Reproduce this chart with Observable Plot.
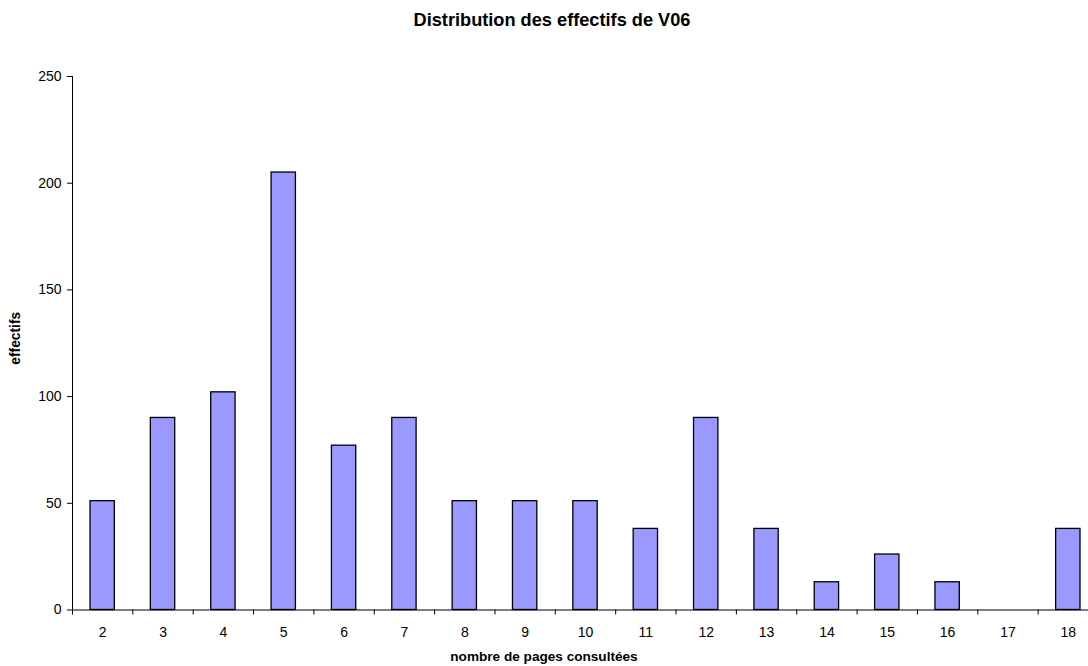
<!DOCTYPE html>
<html>
<head>
<meta charset="utf-8">
<script src="https://cdn.jsdelivr.net/npm/d3@7"></script>
<script src="https://cdn.jsdelivr.net/npm/@observablehq/plot@0.6"></script>
<style>
  html, body { margin: 0; padding: 0; background: #fff; overflow: hidden; }
  #wrap { width: 1088px; height: 666px; overflow: hidden; font-family: "Liberation Sans", Arial, sans-serif; color: #000; }
  #title { height: 40px; line-height: 40px; text-align: center; font-weight: bold; font-size: 18.2px; padding-left: 16px; box-sizing: border-box; width: 1088px; }
  #xlabel { height: 21px; line-height: 24px; text-align: center; font-weight: bold; font-size: 13.6px; width: 1088px; }
  #chart { width: 1088px; overflow: hidden; }
  #chart svg { display: block; max-width: none !important; }
</style>
</head>
<body>
<div id="wrap">
  <div id="title">Distribution des effectifs de V06</div>
  <div id="chart"></div>
  <div id="xlabel">nombre de pages consultées</div>
</div>
<script>
const categories = [2, 3, 4, 5, 6, 7, 8, 9, 10, 11, 12, 13, 14, 15, 16, 17, 18];
const values = [51, 90, 102, 205, 77, 90, 51, 51, 51, 38, 90, 38, 13, 26, 13, 0, 38];
const yTicks = [0, 50, 100, 150, 200, 250];

const data = categories.map((p, i) => ({p, n: values[i]}));
const boundaries = categories.map(p => p - 0.5).concat([categories[categories.length - 1] + 0.5]);
const xStart = categories[0] - 0.5;
const yMid = (yTicks[0] + yTicks[yTicks.length - 1]) / 2;

const chart = Plot.plot({
  width: 1098,
  height: 605,
  marginLeft: 72,
  marginRight: 0,
  marginTop: 36,
  marginBottom: 35.5,
  x: {type: "linear", domain: [xStart, categories[categories.length - 1] + 0.5]},
  y: {domain: [0, 250]},
  style: {fontFamily: "'Liberation Sans', Arial, sans-serif", fontSize: "14px", color: "#000", background: "#fff", maxWidth: "none"},
  marks: [
    Plot.rectY(data.filter(d => d.n > 0), {
      x1: d => d.p - 0.5, x2: d => d.p + 0.5, y1: 0, y2: "n",
      insetLeft: 18, insetRight: 18,
      fill: "#9999FF", stroke: "#000", strokeWidth: 1.3
    }),
    Plot.ruleX([xStart], {y1: 0, y2: 250, stroke: "#000"}),
    Plot.ruleY([0], {stroke: "#000"}),
    Plot.axisY({ticks: yTicks, tickSize: 5, tickPadding: 6, label: null, stroke: "#000"}),
    Plot.axisX({ticks: boundaries, tickSize: 5, tickFormat: () => "", label: null, stroke: "#000"}),
    Plot.axisX({ticks: categories, tickSize: 0, tickPadding: 17, label: null, tickFormat: d => String(d)}),
    Plot.text(["effectifs"], {x: xStart, y: yMid, dx: -57, dy: -5, rotate: -90, fontWeight: "bold", fontSize: 13.8, text: d => d})
  ]
});
document.getElementById("chart").appendChild(chart);
</script>
</body>
</html>
